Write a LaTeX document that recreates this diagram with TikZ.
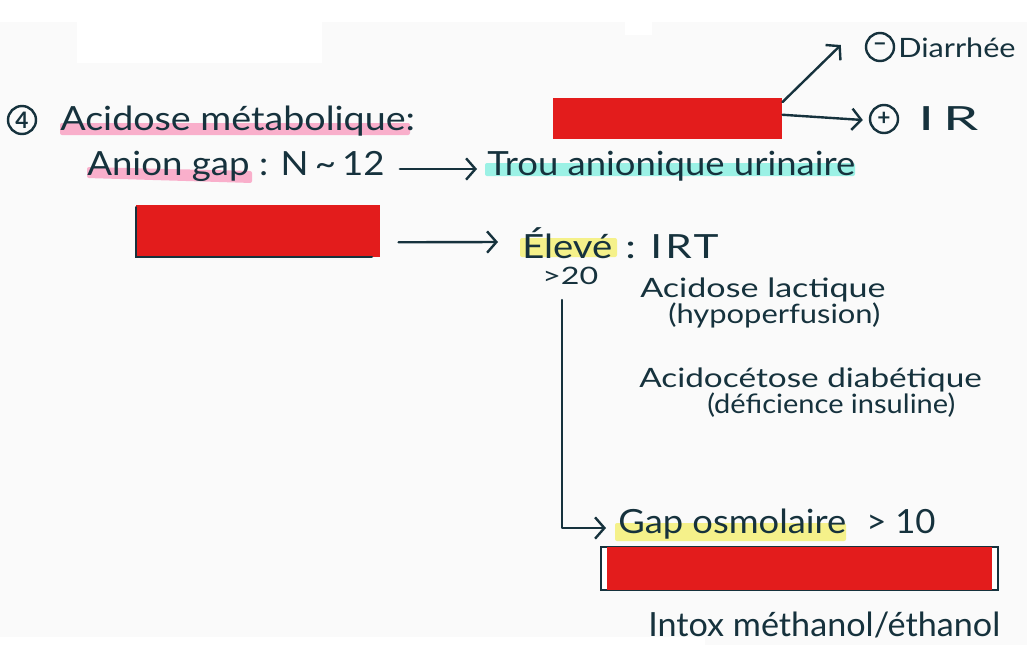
\documentclass[tikz,border=0pt]{standalone}
\usepackage{fontspec}
\usepackage{graphicx}
\setmainfont{Lato}
\usetikzlibrary{arrows.meta,calc}
\definecolor{ink}{HTML}{16323D}
\definecolor{bgpaper}{HTML}{FAFAFA}
\definecolor{redact}{HTML}{E31C1C}
\definecolor{pinkhl}{HTML}{F9AFCB}
\definecolor{tealhl}{HTML}{9BF1E5}
\definecolor{yelhl}{HTML}{F5F18A}
\newcommand\fitto[2]{\resizebox{#1}{\height}{#2}}
\begin{document}
\begin{tikzpicture}[x=0.75pt,y=-0.75pt,
  txt/.style={anchor=base west,inner sep=0pt,text=ink,font=\fontsize{25}{27}\selectfont},
  midtxt/.style={txt,font=\fontsize{20}{22}\selectfont},
  smalltxt/.style={txt,font=\fontsize{18}{20}\selectfont},
  conn/.style={draw=ink,line width=1.8pt,line cap=round,line join=round,-{Straight Barb[length=7pt,width=16pt,line width=1.8pt]}},
  circ/.style={circle,draw=ink,line width=1.8pt,inner sep=0pt,minimum size=21pt,text=ink,font=\fontsize{17}{17}\selectfont\bfseries},
  hl/.style={rounded corners=1.5pt},
  redbox/.style={fill=redact,inner sep=0pt,anchor=north west}]
\useasboundingbox (0,0) rectangle (1027,665);
\fill[white] (0,0) rectangle (1027,665);
\fill[bgpaper] (0,22) rectangle (1027,637);
\fill[bgpaper] (705,637) rectangle (1027,645);
\fill[white] (77,22) rectangle (322,63);
\fill[white] (625,22) rectangle (652,35);

% highlights
\fill[pinkhl,hl] (60,123) rectangle (410,135);
\fill[pinkhl,hl] (87,167) -- (252,171) -- (252,183) -- (87,178) -- cycle;
\fill[tealhl,hl] (485,163) rectangle (855,176);
\fill[yelhl,hl] (520,238) rectangle (617,257);
\fill[yelhl,hl] (615,523) rectangle (846,541);

% header
\node[circ] (four) at (22,120) {4};
\node[txt] (title) at (60,130) {\fitto{266pt}{Acidose métabolique:}};
\node[txt] (anion) at (87,175) {\fitto{223pt}{Anion gap : N\,\char"007E\,12}};
\node[txt] (trou) at (487,175) {\fitto{276pt}{Trou anionique urinaire}};
\draw[conn] ($(anion.base east)+(15,-6)$) -- ($(trou.base west)+(-10,-6)$);

% top right branch
\node[redbox,minimum width=171.75pt,minimum height=30.75pt] (rb1) at (553,98) {};
\node[circ] (minus) at (880,47) {−};
\node[midtxt] (diar) at (898,57) {\fitto{88pt}{Diarrhée}};
\node[circ] (plus) at (884,119) {+};
\node[txt] (ir) at (918,130) {\fitto{45pt}{I\kern4ptR}};
\draw[conn] ($(rb1.north east)+(0,4)$) -- ($(minus.west)+(-24,-2)$);
\draw[conn] ($(rb1.east)+(0,-4)$) -- ($(plus.west)+(-6,1)$);

% second redacted box
\node[redbox,minimum width=183pt,minimum height=39pt] (rb2) at (136,205) {};
\draw[ink,line width=1.5pt,line cap=round] (136,207) -- (136,257) -- (372,257);
\node[txt] (eleve) at (522,258) {\fitto{67.5pt}{Élevé}};
\node[txt] (irt) at (625,258) {\fitto{70pt}{: I\kern2ptR\kern1ptT}};
\draw[conn] ($(rb2.east)+(18,11)$) -- ($(eleve.base west)+(-24,-16)$);
\node[smalltxt] (gt20) at (542,284) {\fitto{42pt}{>20}};

\node[midtxt] (lact) at (640,297) {\fitto{184pt}{Acidose lactique}};
\node[midtxt] (hypo) at (668,323) {\fitto{159pt}{(hypoperfusion)}};
\node[midtxt] (acido) at (639,387) {\fitto{257pt}{Acidocétose diabétique}};
\node[midtxt] (defi) at (707,413) {\fitto{186pt}{(déficience insuline)}};

% osmolar gap
\node[txt] (gap) at (618,533) {\fitto{171pt}{Gap osmolaire}};
\node[txt] (gt10) at (866,533) {\fitto{52pt}{> 10}};
\draw[conn] ($(gt20.base west)+(20,16)$) |- ($(gap.base west)+(-12,-5)$);

\filldraw[fill=white,draw=ink,line width=1.5pt] (601,547) rectangle (998,590);
\node[redbox,minimum width=288.75pt,minimum height=32.25pt] (rb3) at (607,547) {};

\node[txt] (intox) at (648,636) {\fitto{264pt}{Intox méthanol/éthanol}};
\end{tikzpicture}
\end{document}
